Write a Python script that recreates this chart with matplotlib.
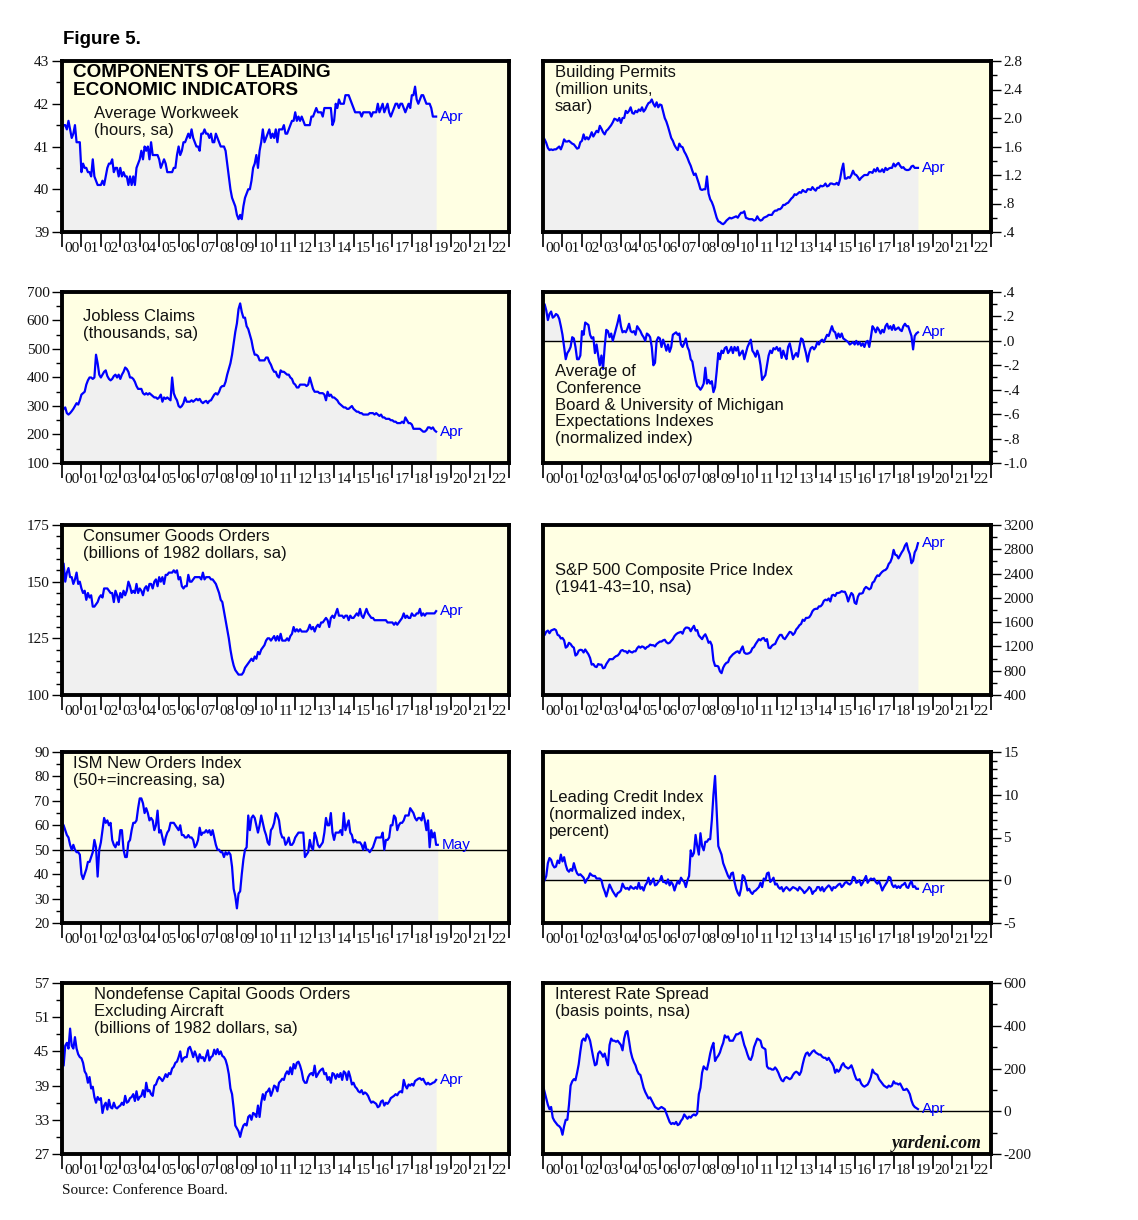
import numpy as np
import matplotlib
matplotlib.use("Agg")
import matplotlib.pyplot as plt
from matplotlib.ticker import MultipleLocator, FixedLocator, FixedFormatter, FormatStrFormatter

# monthly values, Jan 2000 .. Apr 2019 (ISM to May 2019)
workweek = [
    41.4, 41.5, 41.5, 41.4, 41.6, 41.4, 41.2, 41.3, 41.5, 41.1, 41.1, 41.1,
    40.4, 40.6, 40.5, 40.5, 40.4, 40.4, 40.3, 40.7, 40.3, 40.2, 40.1, 40.1,
    40.1, 40.2, 40.1, 40.3, 40.5, 40.6, 40.6, 40.7, 40.4, 40.5, 40.5, 40.3,
    40.5, 40.3, 40.4, 40.3, 40.3, 40.1, 40.3, 40.1, 40.3, 40.1, 40.5, 40.6,
    40.7, 40.9, 40.7, 41.0, 40.9, 41.0, 40.7, 41.1, 40.8, 40.8, 40.8, 40.8,
    40.7, 40.5, 40.6, 40.7, 40.6, 40.4, 40.4, 40.4, 40.4, 40.5, 40.5, 40.8,
    41.0, 40.8, 40.9, 41.1, 41.1, 41.2, 41.3, 41.2, 41.4, 41.2, 41.1, 41.0,
    41.0, 40.9, 41.3, 41.3, 41.4, 41.3, 41.3, 41.2, 41.3, 41.1, 41.1, 41.3,
    41.2, 41.1, 41.0, 41.0, 41.0, 40.9, 40.6, 40.3, 40.0, 39.8, 39.7, 39.6,
    39.4, 39.3, 39.4, 39.3, 39.6, 39.8, 39.9, 40.0, 40.0, 40.2, 40.5, 40.6,
    40.8, 40.5, 40.9, 41.1, 41.4, 41.1, 41.2, 41.3, 41.4, 41.2, 41.3, 41.2,
    41.4, 41.1, 41.4, 41.4, 41.4, 41.5, 41.3, 41.3, 41.4, 41.5, 41.6, 41.6,
    41.8, 41.6, 41.7, 41.6, 41.7, 41.6, 41.5, 41.5, 41.5, 41.5, 41.7, 41.7,
    41.8, 41.9, 41.8, 41.8, 41.8, 41.7, 41.9, 41.9, 41.9, 41.9, 41.9, 41.5,
    41.6, 42.0, 41.9, 42.1, 42.0, 42.0, 42.0, 42.2, 42.2, 42.2, 42.1, 42.0,
    41.9, 41.8, 41.8, 41.8, 41.8, 41.7, 41.8, 41.8, 41.8, 41.8, 41.8, 41.7,
    41.8, 41.8, 41.8, 42.0, 41.8, 41.9, 42.0, 41.8, 41.9, 42.0, 41.8, 41.7,
    41.8, 41.9, 42.0, 42.0, 41.9, 42.0, 42.0, 41.9, 41.8, 41.9, 42.0, 41.9,
    42.2, 42.2, 42.4, 42.1, 42.0, 42.1, 42.2, 42.2, 42.1, 42.0, 42.0, 42.0,
    41.9, 41.7, 41.7, 41.7,
]

permits = [
    1.73, 1.70, 1.65, 1.58, 1.55, 1.56, 1.55, 1.56, 1.56, 1.58, 1.60, 1.56,
    1.62, 1.70, 1.67, 1.67, 1.68, 1.66, 1.64, 1.63, 1.60, 1.57, 1.58, 1.66,
    1.68, 1.77, 1.70, 1.73, 1.70, 1.74, 1.80, 1.74, 1.78, 1.82, 1.80, 1.89,
    1.85, 1.80, 1.77, 1.82, 1.84, 1.87, 1.90, 1.94, 1.99, 1.98, 1.96, 2.00,
    1.93, 2.00, 2.00, 2.10, 2.07, 2.10, 2.15, 2.07, 2.06, 2.10, 2.08, 2.12,
    2.10, 2.15, 2.09, 2.12, 2.17, 2.21, 2.22, 2.26, 2.20, 2.16, 2.22, 2.15,
    2.19, 2.18, 2.09, 2.00, 1.95, 1.88, 1.80, 1.72, 1.68, 1.62, 1.58, 1.55,
    1.64, 1.60, 1.59, 1.53, 1.49, 1.44, 1.38, 1.33, 1.26, 1.20, 1.22, 1.15,
    1.08, 1.00, 0.99, 1.00, 1.00, 1.18, 0.94, 0.86, 0.82, 0.76, 0.68, 0.60,
    0.55, 0.54, 0.52, 0.51, 0.53, 0.56, 0.58, 0.60, 0.59, 0.60, 0.61, 0.62,
    0.60, 0.64, 0.67, 0.67, 0.69, 0.60, 0.59, 0.58, 0.58, 0.58, 0.56, 0.57,
    0.62, 0.58, 0.56, 0.57, 0.60, 0.61, 0.62, 0.64, 0.64, 0.64, 0.68, 0.70,
    0.70, 0.72, 0.72, 0.74, 0.78, 0.78, 0.80, 0.81, 0.84, 0.87, 0.89, 0.93,
    0.92, 0.94, 0.96, 0.95, 0.99, 0.97, 0.96, 1.00, 1.00, 0.99, 1.03, 1.00,
    0.98, 1.02, 1.02, 1.05, 1.04, 1.05, 1.08, 1.04, 1.05, 1.08, 1.08, 1.07,
    1.07, 1.09, 1.06, 1.14, 1.27, 1.36, 1.15, 1.15, 1.17, 1.16, 1.20, 1.26,
    1.21, 1.20, 1.17, 1.13, 1.16, 1.18, 1.20, 1.20, 1.20, 1.24, 1.24, 1.23,
    1.28, 1.25, 1.30, 1.25, 1.25, 1.28, 1.24, 1.30, 1.27, 1.29, 1.30, 1.30,
    1.36, 1.32, 1.35, 1.37, 1.33, 1.30, 1.31, 1.28, 1.27, 1.27, 1.28, 1.32,
    1.33, 1.30, 1.30, 1.30,
]

claims = [
    280, 290, 295, 275, 270, 275, 282, 290, 300, 310, 305, 320,
    340, 345, 350, 375, 390, 400, 400, 395, 400, 480, 450, 410,
    400, 410, 420, 425, 405, 395, 390, 395, 405, 410, 400, 410,
    395, 410, 420, 435, 430, 420, 400, 400, 395, 385, 370, 360,
    360, 360, 345, 340, 345, 340, 345, 340, 335, 330, 330, 325,
    330, 340, 315, 330, 325, 330, 325, 320, 400, 345, 330, 320,
    300, 295, 300, 310, 330, 315, 315, 315, 320, 315, 320, 325,
    320, 325, 315, 310, 315, 318, 310, 318, 320, 330, 340, 345,
    340, 350, 365, 370, 370, 385, 410, 430, 450, 480, 520, 560,
    590, 640, 660, 630, 610, 610, 580, 570, 550, 530, 500, 480,
    480, 475, 460, 460, 460, 460, 470, 470, 455, 445, 430, 420,
    420, 405, 400, 425, 420, 420, 415, 410, 410, 400, 395, 380,
    375, 365, 365, 375, 375, 375, 375, 370, 375, 400, 380, 360,
    350, 350, 350, 345, 345, 345, 340, 320, 350, 335, 340, 330,
    330, 325, 320, 310, 305, 300, 295, 295, 290, 290, 295, 300,
    290, 285, 280, 280, 275, 275, 270, 270, 270, 270, 275, 275,
    275, 270, 275, 270, 265, 270, 260, 260, 255, 255, 255, 250,
    250, 245, 245, 240, 240, 240, 245, 240, 260, 250, 240, 240,
    235, 220, 220, 220, 220, 220, 215, 210, 210, 215, 225, 225,
    220, 225, 215, 210,
]

expectations = [
    0.28, 0.30, 0.25, 0.17, 0.22, 0.24, 0.19, 0.20, 0.22, 0.21, 0.18, 0.12,
    0.05, -0.05, -0.15, -0.10, -0.08, -0.05, 0.03, 0.02, -0.05, -0.15, -0.15, -0.12,
    0.08, 0.05, 0.15, 0.14, 0.13, 0.05, 0.02, 0.03, -0.10, -0.03, -0.12, -0.20,
    -0.12, -0.23, -0.05, 0.09, 0.08, 0.03, 0.06, 0.00, 0.05, 0.10, 0.15, 0.21,
    0.12, 0.07, 0.08, 0.07, 0.10, 0.14, 0.08, 0.07, 0.08, 0.05, 0.12, 0.10,
    0.08, 0.05, 0.03, 0.00, 0.06, 0.05, 0.03, -0.05, -0.20, -0.18, 0.00, 0.03,
    0.02, -0.05, 0.01, -0.03, -0.08, -0.03, -0.09, -0.05, 0.05, 0.06, 0.07, 0.05,
    0.06, -0.03, -0.05, -0.02, 0.02, -0.05, -0.08, -0.15, -0.17, -0.25, -0.32, -0.37,
    -0.38, -0.40, -0.38, -0.35, -0.22, -0.35, -0.32, -0.35, -0.33, -0.42, -0.38, -0.25,
    -0.10, -0.15, -0.08, -0.10, -0.06, -0.05, -0.10, -0.08, -0.05, -0.10, -0.05, -0.08,
    -0.05, -0.12, -0.10, -0.08, -0.15, -0.10, -0.05, -0.02, 0.01, -0.08, -0.10, -0.13,
    -0.08, -0.12, -0.20, -0.32, -0.30, -0.28, -0.20, -0.12, -0.08, -0.10, -0.06, -0.07,
    -0.05, -0.08, -0.06, -0.14, -0.08, -0.12, -0.15, -0.05, -0.02, -0.08, -0.15, -0.12,
    -0.10, -0.13, -0.05, 0.02, 0.01, -0.05, -0.10, -0.17, -0.10, -0.06, -0.05, -0.07,
    -0.05, -0.01, -0.03, 0.00, 0.01, -0.01, 0.02, 0.05, 0.04, 0.08, 0.12, 0.08,
    0.07, 0.02, 0.06, 0.03, 0.06, 0.02, 0.01, 0.00, -0.01, -0.03, -0.02, -0.01,
    -0.03, 0.00, -0.03, -0.01, -0.04, -0.02, -0.05, -0.01, 0.00, -0.05, 0.03, 0.12,
    0.10, 0.07, 0.11, 0.09, 0.06, 0.09, 0.07, 0.12, 0.14, 0.10, 0.12, 0.09,
    0.13, 0.09, 0.10, 0.11, 0.09, 0.08, 0.12, 0.14, 0.12, 0.12, 0.08, 0.04,
    -0.07, 0.04, 0.06, 0.07,
]

consumer_orders = [
    155, 158, 150, 154, 156, 152, 152, 149, 151, 154, 149, 150,
    147, 145, 146, 142, 145, 143, 144, 139, 139, 140, 141, 143,
    144, 143, 147, 147, 147, 146, 145, 145, 141, 146, 144, 141,
    145, 143, 146, 144, 146, 150, 148, 145, 146, 145, 149, 145,
    147, 146, 144, 147, 148, 146, 149, 149, 147, 150, 151, 148,
    152, 150, 152, 149, 153, 153, 154, 154, 154, 155, 154, 155,
    151, 152, 148, 147, 148, 148, 153, 150, 150, 151, 152, 152,
    152, 152, 151, 154, 151, 152, 152, 152, 151, 151, 150, 149,
    147, 145, 142, 141, 137, 133, 129, 125, 120, 116, 113, 111,
    110, 109, 109, 109, 110, 112, 113, 114, 115, 116, 115, 117,
    116, 119, 118, 120, 121, 122, 124, 125, 125, 124, 125, 126,
    124, 126, 124, 127, 124, 124, 124, 125, 124, 126, 127, 130,
    128, 129, 128, 129, 128, 128, 128, 128, 129, 131, 129, 130,
    128, 130, 131, 130, 132, 132, 133, 134, 133, 130, 134, 135,
    134, 136, 138, 135, 135, 135, 134, 135, 135, 133, 135, 134,
    134, 135, 136, 135, 138, 135, 134, 136, 138, 136, 135, 134,
    134, 133, 133, 133, 133, 133, 133, 133, 133, 132, 132, 132,
    132, 131, 132, 131, 132, 133, 134, 136, 134, 135, 134, 134,
    136, 135, 135, 136, 136, 138, 135, 136, 135, 136, 136, 136,
    136, 136, 136, 137,
]

sp500 = [
    1425, 1388, 1442, 1461, 1418, 1462, 1473, 1485, 1468, 1390, 1378, 1330,
    1340, 1300, 1180, 1200, 1260, 1240, 1200, 1180, 1050, 1070, 1130, 1145,
    1140, 1100, 1150, 1110, 1070, 1010, 900, 910, 870, 860, 910, 900,
    900, 840, 850, 910, 950, 990, 990, 990, 1020, 1040, 1050, 1080,
    1130, 1140, 1120, 1120, 1090, 1130, 1110, 1100, 1120, 1120, 1170, 1200,
    1180, 1200, 1190, 1160, 1190, 1200, 1230, 1220, 1220, 1200, 1240, 1260,
    1280, 1280, 1300, 1310, 1270, 1250, 1260, 1290, 1320, 1370, 1400, 1420,
    1430, 1440, 1410, 1480, 1510, 1510, 1500, 1450, 1500, 1540, 1460, 1470,
    1380, 1350, 1320, 1370, 1400, 1340, 1260, 1280, 1220, 970, 880, 880,
    870, 790, 760, 850, 900, 930, 940, 1010, 1040, 1070, 1090, 1110,
    1120, 1090, 1150, 1200, 1100, 1080, 1080, 1090, 1110, 1170, 1190, 1240,
    1280, 1320, 1300, 1330, 1340, 1290, 1320, 1180, 1170, 1210, 1230, 1240,
    1300, 1350, 1390, 1390, 1340, 1320, 1360, 1400, 1440, 1430, 1390, 1420,
    1480, 1510, 1550, 1570, 1640, 1620, 1670, 1670, 1680, 1720, 1780, 1810,
    1820, 1820, 1860, 1860, 1890, 1950, 1970, 1960, 1990, 1940, 2040, 2050,
    2030, 2080, 2080, 2090, 2110, 2100, 2100, 2040, 1940, 2020, 2080, 2050,
    1920, 1900, 2020, 2070, 2070, 2080, 2150, 2180, 2160, 2140, 2160, 2250,
    2270, 2330, 2370, 2360, 2400, 2430, 2450, 2460, 2490, 2560, 2590, 2660,
    2790, 2710, 2700, 2650, 2700, 2750, 2790, 2860, 2900, 2790, 2720, 2570,
    2610, 2750, 2800, 2900,
]

ism_orders = [
    61, 60, 58, 56, 55, 52, 50, 52, 50, 49, 49, 48,
    40, 38, 40, 42, 45, 45, 47, 49, 54, 51, 39, 50,
    53, 58, 63, 61, 62, 60, 61, 54, 52, 51, 53, 52,
    58, 58, 50, 47, 47, 53, 54, 58, 61, 61, 62, 67,
    71, 71, 69, 65, 67, 65, 62, 63, 62, 58, 60, 66,
    57, 58, 55, 52, 55, 57, 58, 61, 61, 61, 60, 59,
    58, 60, 56, 56, 55, 55, 56, 55, 55, 54, 51, 52,
    54, 59, 56, 57, 57, 58, 57, 58, 56, 58, 55, 52,
    50, 50, 49, 49, 47, 49, 48, 49, 48, 43, 34, 31,
    26, 32, 33, 40, 46, 50, 51, 64, 58, 63, 64, 63,
    60, 57, 60, 64, 61, 58, 56, 53, 52, 58, 59, 61,
    65, 64, 62, 57, 55, 55, 52, 53, 55, 52, 52, 53,
    55, 56, 57, 57, 57, 57, 47, 48, 49, 54, 51, 50,
    57, 55, 52, 51, 52, 53, 57, 63, 60, 60, 65, 57,
    54, 57, 57, 57, 58, 56, 65, 58, 60, 62, 57, 56,
    53, 54, 53, 53, 53, 52, 50, 53, 50, 50, 49, 50,
    51, 53, 55, 55, 55, 55, 57, 50, 54, 54, 55, 60,
    60, 64, 63, 58, 60, 61, 61, 62, 64, 64, 64, 67,
    66, 65, 63, 62, 63, 63, 62, 65, 62, 58, 62, 51,
    58, 55, 57, 52, 52,
]

credit_index = [
    -0.3, 0.0, 0.5, 2.0, 2.6, 2.4, 1.8, 1.5, 1.6, 2.3, 2.0, 3.0,
    2.2, 2.7, 1.8, 1.2, 1.0, 1.3, 1.1, 2.0, 1.3, 0.8, 0.6, 0.7,
    0.5, 0.3, -0.3, 0.1, 0.3, 0.8, 0.6, 0.5, 0.5, 0.2, 0.2, 0.2,
    0.0, -0.8, -1.3, -1.9, -1.2, -0.5, -0.9, -1.3, -1.6, -1.9, -1.5, -1.4,
    -1.2, -0.4, -0.8, -1.0, -0.9, -1.1, -0.7, -0.9, -1.0, -0.8, -1.0, -0.3,
    -1.0, -0.8, -1.2, -0.6, -0.3, 0.3, -0.5, -0.2, 0.2, -0.6, -0.5, -0.2,
    0.0, 0.5, -0.2, -0.2, -0.4, 0.1, -0.6, -0.2, -0.5, -1.2, -0.6, -0.1,
    -0.4, 0.3, 0.0, -0.2, -0.8, 0.0, 0.5, 3.5, 2.8, 3.2, 5.3, 4.0,
    3.0, 5.5, 4.0, 3.5, 4.5, 4.5, 4.8, 4.8, 7.0, 10.0, 12.2, 8.0,
    4.0, 3.5, 3.0, 2.0, 1.5, 1.0, 0.5, 0.2, 0.8, 0.9, -0.2, -1.0,
    -1.5, -1.8, -1.0, 0.6, 0.4, -0.3, -1.2, -1.0, -1.4, -1.6, -1.3, -1.2,
    -1.0, -0.8, -0.3, -0.8, 0.2, 0.0, 0.8, 0.9, -0.2, 0.0, 0.3, -0.5,
    -0.4, -0.8, -1.0, -0.8, -1.3, -1.0, -0.8, -1.0, -1.2, -1.0, -0.8, -0.9,
    -1.0, -1.2, -0.8, -1.0, -1.2, -1.5, -1.3, -1.1, -0.8, -1.0, -1.6, -1.3,
    -1.2, -0.8, -0.8, -1.2, -0.8, -1.3, -1.0, -0.8, -0.6, -0.8, -1.2, -0.8,
    -0.9, -0.7, -0.5, -0.4, -0.8, -0.6, -0.3, -0.2, -0.4, -0.5, -0.3, 0.4,
    0.3, -0.3, -0.2, 0.0, -0.6, -0.3, 0.1, 0.5, -0.3, 0.0, 0.2, 0.1,
    0.2, -0.2, -0.4, -0.1, -0.6, -1.2, -0.8, -0.5, -0.2, 0.4, 0.3, -0.5,
    -0.8, -0.6, -0.9, -0.7, -0.9, -0.6, -0.5, -0.3, -0.8, -0.9, -0.4, -0.1,
    -0.8, -0.7, -1.0, -1.0,
]

capital_orders = [
    47.0, 42.5, 46.0, 46.5, 45.5, 49.0, 46.0, 45.5, 47.5, 45.5, 44.5, 44.0,
    43.8, 43.0, 41.5, 41.0, 39.5, 40.5, 38.5, 38.8, 37.0, 36.0, 37.0, 36.5,
    36.8, 34.2, 35.5, 36.0, 34.8, 36.5, 35.2, 35.0, 36.0, 35.2, 35.0, 35.3,
    35.5, 36.0, 35.6, 37.2, 36.0, 36.2, 36.8, 37.0, 37.5, 36.3, 38.0, 36.5,
    37.0, 37.2, 38.2, 37.0, 39.5, 38.0, 38.2, 37.5, 37.2, 39.0, 39.2, 40.0,
    40.5, 40.2, 39.8, 40.3, 41.0, 40.5, 41.2, 41.0, 42.0, 42.3, 43.0, 43.2,
    44.0, 45.0, 43.2, 43.8, 44.0, 44.0, 45.5, 45.8, 45.0, 44.0, 45.0, 44.2,
    43.2, 44.5, 43.8, 44.0, 43.3, 44.2, 45.2, 43.4, 44.0, 44.2, 45.3, 44.5,
    45.4, 44.5, 45.0, 44.2, 44.0, 43.5, 42.5, 41.0, 38.5, 37.5, 35.0, 32.0,
    31.5, 31.0, 30.0, 31.2, 32.0, 32.3, 32.0, 33.5, 33.8, 33.0, 34.2, 34.0,
    33.5, 35.5, 33.5, 36.0, 37.5, 36.5, 37.8, 38.0, 38.5, 37.2, 38.0, 39.0,
    38.8, 38.0, 39.5, 39.8, 40.2, 40.0, 41.0, 41.5, 41.0, 42.2, 41.0, 42.8,
    42.0, 43.0, 43.2, 42.5, 41.5, 40.0, 39.5, 39.5, 40.5, 41.0, 41.2, 40.8,
    42.5, 40.5, 41.0, 41.5, 41.8, 42.0, 41.0, 41.2, 40.0, 40.5, 39.5, 41.2,
    41.0, 40.2, 41.0, 40.5, 41.2, 40.0, 41.5, 41.2, 40.0, 41.5, 40.5, 39.2,
    39.5, 38.8, 38.5, 38.0, 37.8, 38.2, 37.5, 37.8, 37.6, 37.2, 36.5, 36.0,
    36.2, 36.0, 35.8, 35.2, 35.4, 36.2, 36.4, 35.5, 36.0, 35.8, 36.2, 36.8,
    37.0, 37.2, 37.5, 37.3, 37.8, 38.0, 37.8, 40.0, 39.0, 38.5, 39.2, 39.0,
    39.3, 39.0, 39.8, 40.0, 40.2, 40.3, 40.0, 40.2, 39.6, 39.2, 39.5, 39.2,
    39.3, 39.5, 39.6, 40.0,
]

rate_spread = [
    120, 90, 60, 30, 10, 20, -30, -45, -55, -65, -70, -80,
    -110, -70, -40, -40, 30, 120, 140, 150, 145, 180, 220, 280,
    330, 340, 330, 360, 350, 330, 290, 250, 215, 220, 270, 280,
    270, 255, 270, 240, 215, 310, 340, 330, 330, 325, 330, 320,
    310, 285, 340, 370, 375, 330, 280, 250, 230, 215, 190, 175,
    170, 140, 110, 90, 75, 60, 65, 50, 35, 20, 15, 10,
    15, 20, 15, 10, -10, -30, -50, -60, -55, -60, -50, -65,
    -60, -45, -35, -15, -25, -35, -25, -30, -20, -15, -20, -10,
    80, 110, 180, 210, 200, 195, 230, 270, 300, 320, 235, 250,
    260, 275, 300, 320, 355, 345, 350, 330, 330, 330, 345, 360,
    360, 365, 370, 340, 310, 290, 265, 245, 240, 260, 300, 320,
    340, 335, 330, 300, 295, 290, 210, 200, 200, 195, 195, 205,
    195, 180, 160, 145, 140, 155, 160, 155, 150, 155, 170, 180,
    185, 180, 170, 185, 220, 250, 270, 275, 260, 270, 280, 285,
    275, 270, 265, 265, 255, 250, 250, 240, 250, 235, 225, 210,
    180, 195, 185, 195, 215, 225, 210, 205, 200, 205, 215, 195,
    170, 150, 145, 150, 130, 120, 115, 120, 125, 140, 160, 195,
    180, 175, 170, 150, 140, 130, 120, 115, 110, 120, 115, 120,
    140, 130, 130, 125, 130, 115, 100, 100, 105, 95, 80, 50,
    30, 20, 15, 10,
]

year_labels = ["%02d" % y for y in range(0, 23)]
permit_ticks = [".4", ".8", "1.2", "1.6", "2.0", "2.4", "2.8"]
expect_ticks = ["-1.0", "-.8", "-.6", "-.4", "-.2", ".0", ".2", ".4"]

BG = "#ffffe3"
FILL = "#f0f0f0"
BLUE = "#0000ff"
INK = "#111111"
SERIF = ["Liberation Serif", "DejaVu Serif"]
SANS = ["Liberation Sans", "DejaVu Sans"]

W, H = 1138, 1220
fig = plt.figure(figsize=(W / 100, H / 100), dpi=100)
fig.patch.set_facecolor("white")

rows = [(61, 232), (292, 463), (525, 695), (752, 923), (983, 1154)]
cols = [(62, 509), (543, 991)]


def rect(col, row):
    (x0, x1), (t, b) = cols[col], rows[row]
    return [x0 / W, 1 - b / H, (x1 - x0) / W, (b - t) / H]


def ftext(px, py, s, **kw):
    kw.setdefault("family", SANS)
    kw.setdefault("fontsize", 12)
    kw.setdefault("color", INK)
    kw.setdefault("linespacing", 1.15)
    fig.text(px / W, 1 - py / H, s, va="top", ha="left", **kw)


def panel(col, row, values, ylim, major, minor, labels=None, fill_to=None,
          hline=None, tag="Apr"):
    ax = fig.add_axes(rect(col, row))
    ax.set_facecolor(BG)
    y = np.asarray(values, dtype=float)
    x = 2000 + np.arange(len(y)) / 12
    base = ylim[0] if fill_to is None else fill_to
    ax.fill_between(x, y, base, color=FILL, lw=0, zorder=1)
    if hline is not None:
        ax.axhline(hline, color="black", lw=1.0, zorder=2)
    ax.plot(x, y, color=BLUE, lw=1.6, zorder=3)
    ax.annotate(tag, (x[-1], y[-1]), xytext=(3, 0), textcoords="offset points",
                va="center", ha="left", color=BLUE, fontsize=11, family=SANS)

    ax.set_xlim(2000, 2023)
    ax.set_ylim(*ylim)
    for s in ax.spines.values():
        s.set_linewidth(2.8)
        s.set_zorder(5)

    ax.xaxis.set_major_locator(FixedLocator(np.arange(2000, 2024)))
    ax.xaxis.set_major_formatter(FixedFormatter([""] * 24))
    ax.xaxis.set_minor_locator(FixedLocator(np.arange(2000.5, 2023)))
    ax.xaxis.set_minor_formatter(FixedFormatter(year_labels))
    ax.tick_params(axis="x", which="major", length=11, width=1.2, direction="out")
    ax.tick_params(axis="x", which="minor", length=0, pad=7.5, labelsize=11,
                   labelcolor=INK)

    ticks = np.arange(ylim[0], ylim[1] + major / 2, major)
    ax.yaxis.set_major_locator(FixedLocator(ticks))
    if labels is not None:
        ax.yaxis.set_major_formatter(FixedFormatter(labels))
    else:
        ax.yaxis.set_major_formatter(FormatStrFormatter("%g"))
    ax.yaxis.set_minor_locator(MultipleLocator(minor))
    ax.tick_params(axis="y", which="major", length=7, width=1.0, direction="out",
                   labelsize=11, labelcolor=INK, pad=2)
    ax.tick_params(axis="y", which="minor", length=4, width=1.0, direction="out")
    if col == 1:
        ax.yaxis.tick_right()
        ax.tick_params(axis="y", which="both", left=False, right=True,
                       labelleft=False, labelright=True)
    for lab in ax.get_xticklabels(minor=True) + ax.get_yticklabels():
        lab.set_family(SERIF)
    return ax


panel(0, 0, workweek, (39, 43), 1, 0.5)
panel(1, 0, permits, (0.4, 2.8), 0.4, 0.2, labels=permit_ticks)
panel(0, 1, claims, (100, 700), 100, 50)
panel(1, 1, expectations, (-1.0, 0.4), 0.2, 0.1, labels=expect_ticks,
      fill_to=0, hline=0)
panel(0, 2, consumer_orders, (100, 175), 25, 5)
panel(1, 2, sp500, (400, 3200), 400, 200)
panel(0, 3, ism_orders, (20, 90), 10, 5, hline=50, tag="May")
panel(1, 3, credit_index, (-5, 15), 5, 1, fill_to=0, hline=0)
panel(0, 4, capital_orders, (27, 57), 6, 3)
panel(1, 4, rate_spread, (-200, 600), 200, 100, fill_to=0, hline=0)

# titles and panel notes
ftext(63, 31, "Figure 5.", fontsize=13.5, weight="bold", color="black")
ftext(73, 64, "COMPONENTS OF LEADING\nECONOMIC INDICATORS", fontsize=13.7,
      weight="bold", color="black", linespacing=1.07)
ftext(94, 106, "Average Workweek\n(hours, sa)")
ftext(555, 65, "Building Permits\n(million units,\nsaar)")
ftext(83, 309, "Jobless Claims\n(thousands, sa)")
ftext(555, 364, "Average of\nConference\nBoard & University of Michigan\n"
      "Expectations Indexes\n(normalized index)")
ftext(83, 529, "Consumer Goods Orders\n(billions of 1982 dollars, sa)")
ftext(555, 563, "S&P 500 Composite Price Index\n(1941-43=10, nsa)")
ftext(73, 756, "ISM New Orders Index\n(50+=increasing, sa)")
ftext(549, 790, "Leading Credit Index\n(normalized index,\npercent)")
ftext(94, 987, "Nondefense Capital Goods Orders\nExcluding Aircraft\n"
      "(billions of 1982 dollars, sa)")
ftext(555, 987, "Interest Rate Spread\n(basis points, nsa)")
fig.text(982 / W, 1 - 1144 / H, "yardeni.com", ha="right", va="center",
         family=SERIF, fontsize=12.7, weight="bold", style="italic", color=INK)
fig.text(62 / W, 1 - 1190 / H, "Source: Conference Board.", ha="left",
         va="center", family=SERIF, fontsize=11, color=INK)

fig.savefig("out.png", dpi=100)
